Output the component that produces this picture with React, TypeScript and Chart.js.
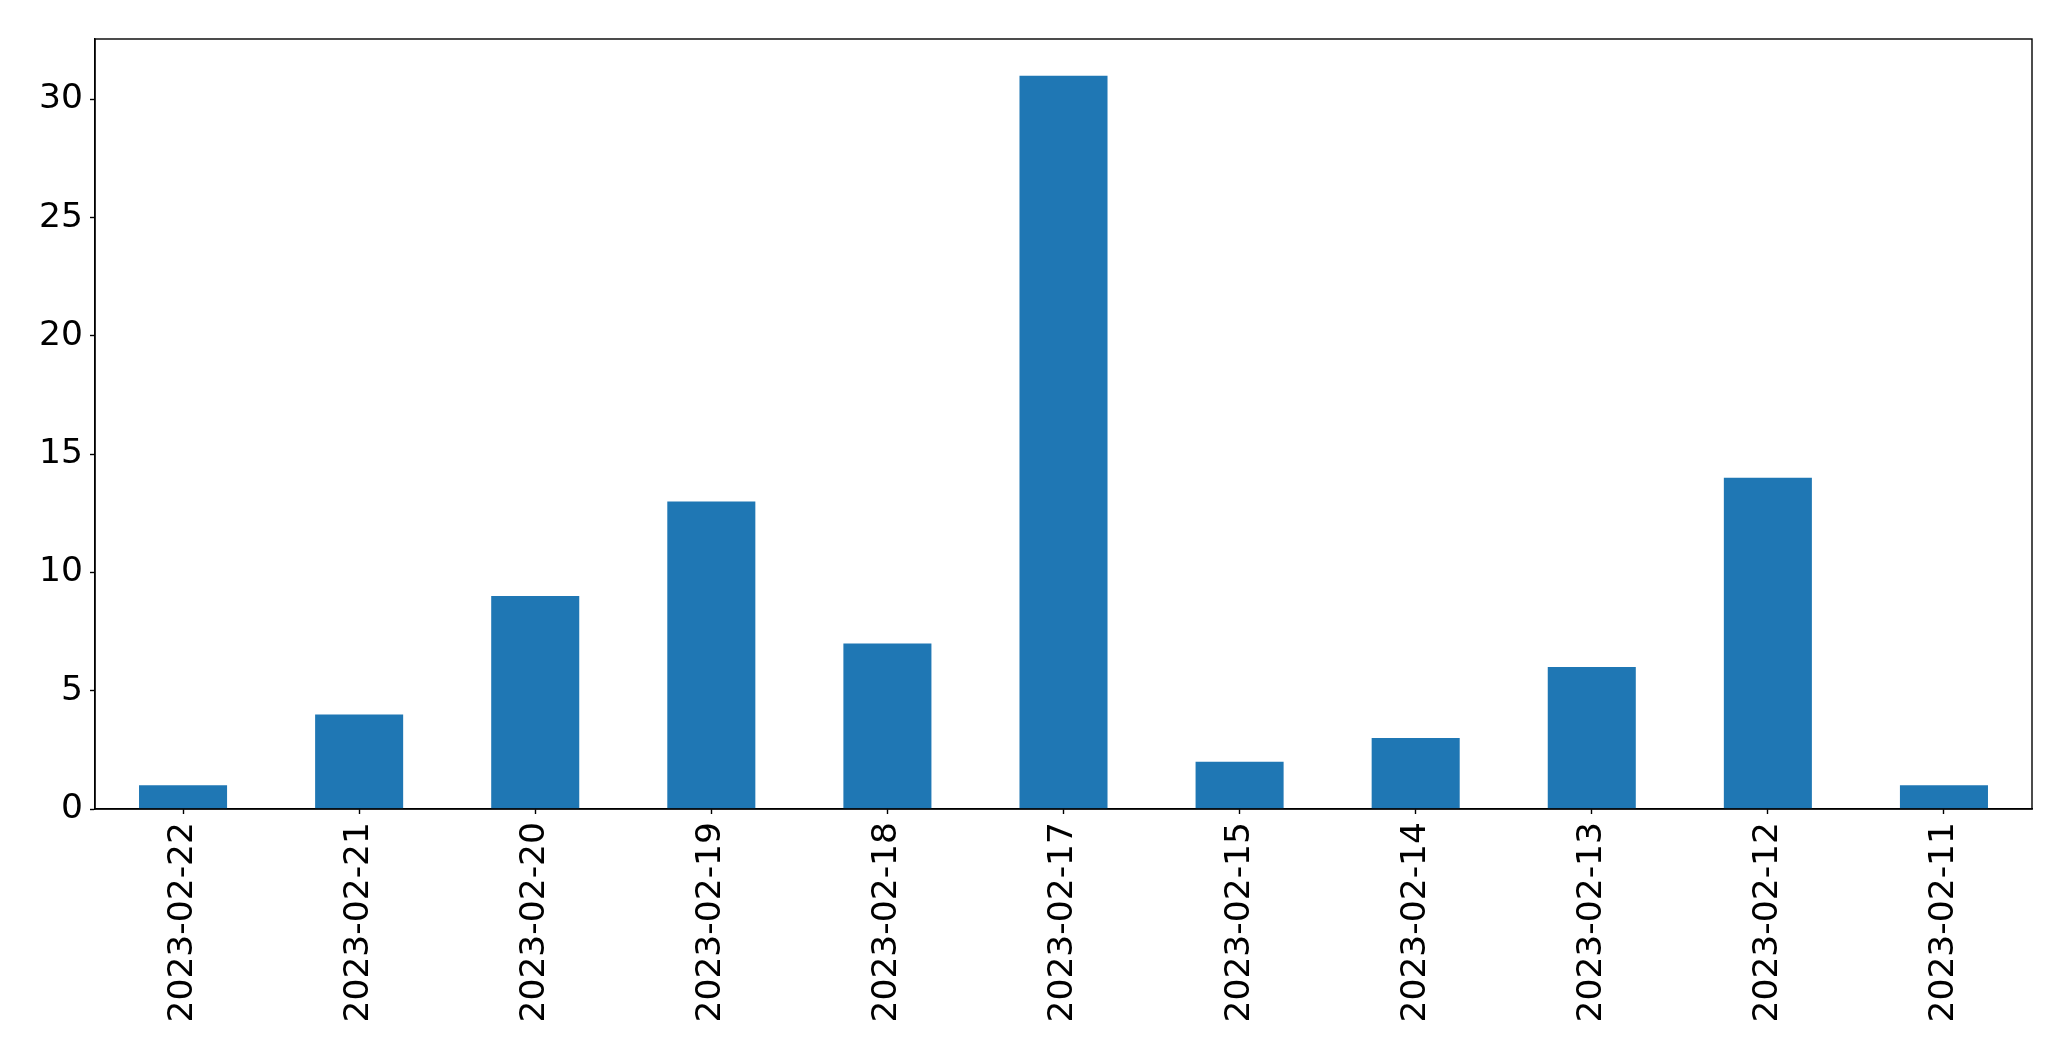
import React, { useEffect, useRef } from "react";
import { Chart, registerables } from "chart.js";

Chart.register(...registerables);

const categories = [
  "2023-02-22", "2023-02-21", "2023-02-20", "2023-02-19", "2023-02-18", "2023-02-17",
  "2023-02-15", "2023-02-14", "2023-02-13", "2023-02-12", "2023-02-11",
];
const counts = [1, 4, 9, 13, 7, 31, 2, 3, 6, 14, 1];
const yTickStep = 5;
const yMax = 32.55;

const frame = {
  id: "frame",
  afterDraw(chart: any) {
    const { ctx, chartArea } = chart;
    ctx.save();
    ctx.strokeStyle = "#000";
    ctx.lineWidth = 1.4;
    ctx.strokeRect(chartArea.left, chartArea.top, chartArea.right - chartArea.left, chartArea.bottom - chartArea.top);
    ctx.restore();
  },
};

export default function App() {
  const ref = useRef<HTMLCanvasElement>(null);
  useEffect(() => {
    document.body.style.margin = "0";
    const font = { family: "'DejaVu Sans', sans-serif", size: 34.5 };
    const chart = new Chart(ref.current!, {
      type: "bar",
      data: {
        labels: categories,
        datasets: [
          {
            data: counts,
            backgroundColor: "#1f77b4",
            barPercentage: 0.5,
            categoryPercentage: 1,
          },
        ],
      },
      options: {
        animation: false,
        responsive: false,
        devicePixelRatio: 1,
        layout: { padding: { top: 39, right: 39, left: 0, bottom: 0 } },
        plugins: { legend: { display: false }, tooltip: { enabled: false } },
        scales: {
          x: {
            offset: true,
            grid: { offset: false, drawOnChartArea: false, drawTicks: true, tickLength: 5, color: "#000", tickWidth: 1.4 },
            border: { display: true, color: "#000", width: 1.4 },
            ticks: { color: "#000", font, minRotation: 90, maxRotation: 90, padding: 8, autoSkip: false },
            afterFit(scale: any) {
              scale.height = 252;
            },
          },
          y: {
            min: 0,
            max: yMax,
            grid: { drawOnChartArea: false, drawTicks: true, tickLength: 5, color: "#000", tickWidth: 1.4 },
            border: { display: true, color: "#000", width: 1.4 },
            ticks: { color: "#000", font, stepSize: yTickStep, padding: 7 },
            afterBuildTicks(scale: any) {
              scale.ticks = scale.ticks.filter((t: any) => t.value % yTickStep === 0);
            },
            afterFit(scale: any) {
              scale.width = 95;
            },
          },
        },
      },
      plugins: [frame],
    });
    return () => chart.destroy();
  }, []);
  return (
    <div style={{ width: 2071, height: 1061, background: "#fff" }}>
      <canvas ref={ref} width={2071} height={1061} style={{ display: "block" }} />
    </div>
  );
}
